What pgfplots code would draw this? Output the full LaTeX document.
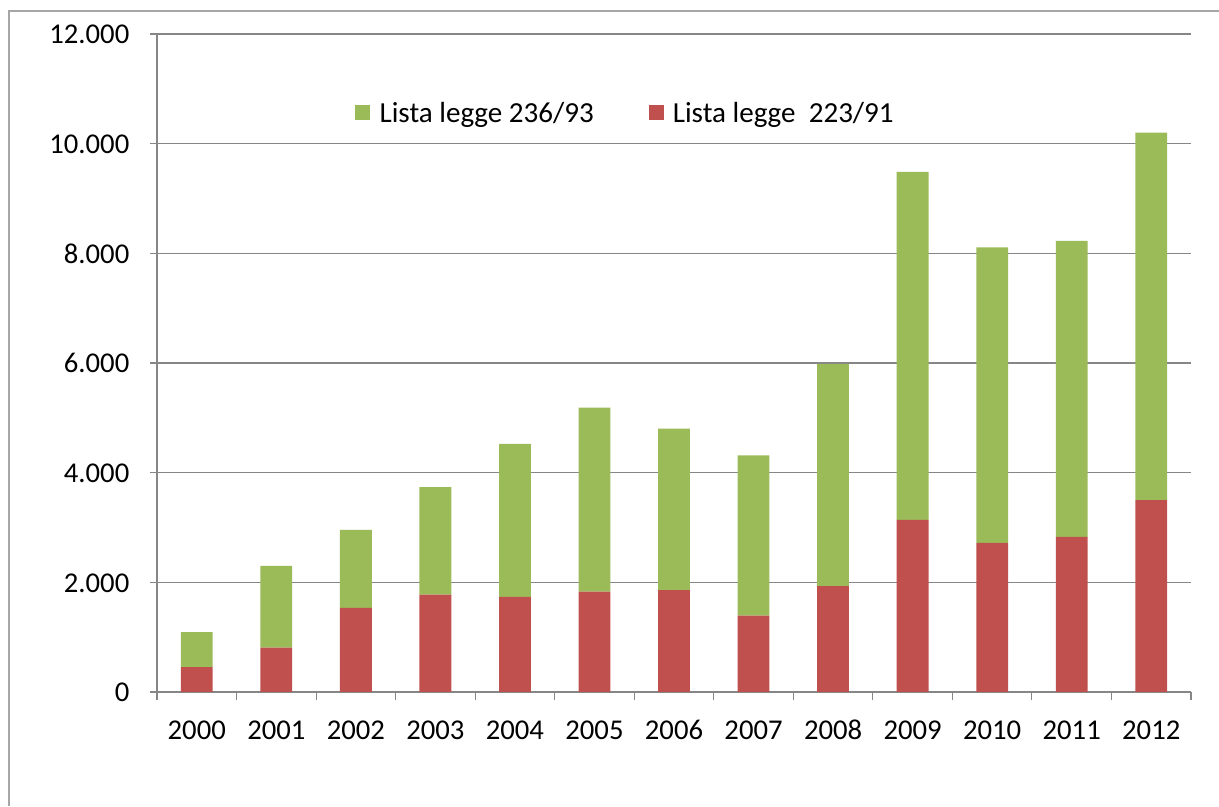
\documentclass[border=0pt]{standalone}
\usepackage{pgfplots}
\pgfplotsset{compat=1.18}
\usepackage{fontspec}
\setmainfont{Carlito}
\definecolor{cgreen}{HTML}{9BBB59}
\definecolor{cred}{HTML}{C0504D}
\definecolor{cgrid}{HTML}{868686}
\begin{document}
\begin{tikzpicture}
\useasboundingbox (0pt,0pt) rectangle (914.25pt,604.5pt);
\draw[color=gray!70, line width=1.2pt] (6.75pt,0pt) -- (6.75pt,596.25pt) -- (914.25pt,596.25pt);
\begin{axis}[
  at={(117.75pt,85.5pt)}, anchor=south west,
  scale only axis, width=775.5pt, height=493.5pt,
  ybar stacked, bar width=0.4,
  xmin=-0.5, xmax=12.5, ymin=0, ymax=12000,
  scaled y ticks=false,
  xtick={0,...,12},
  xticklabels={2000,2001,2002,2003,2004,2005,2006,2007,2008,2009,2010,2011,2012},
  minor xtick={-0.5,0.5,...,12.5},
  ytick={0,2000,4000,6000,8000,10000,12000},
  yticklabels={0,2.000,4.000,6.000,8.000,10.000,12.000},
  major x tick style={draw=none},
  minor x tick style={cgrid, line width=0.8pt},
  minor tick length=6pt,
  major tick length=5.25pt,
  tick align=outside,
  ytick pos=left, xtick pos=bottom,
  y tick style={cgrid, line width=0.8pt},
  ymajorgrids, grid style={cgrid, line width=0.8pt},
  axis x line*=bottom, axis y line*=left,
  axis line style={cgrid, line width=0.8pt},
  tick label style={font=\fontsize{21.5}{24}\selectfont},
  typeset ticklabels with strut,
  yticklabel style={xshift=-12pt, yshift=-2.5pt},
  xticklabel style={yshift=-10pt},
  reverse legend,
  legend columns=2,
  legend style={at={(0.1915,0.88)}, anchor=west, draw=none, fill=none,
    inner sep=0pt, font=\fontsize{21.8}{24}\selectfont,
    /tikz/every odd column/.append style={column sep=5pt},
    /tikz/every even column/.append style={column sep=39pt}},
  legend image code/.code={\fill[#1] (0pt,-5.6pt) rectangle (11.25pt,5.6pt);},
]
\addplot[fill=cred, draw=none] coordinates {
(0,455) (1,811) (2,1533) (3,1775) (4,1733) (5,1829) (6,1860)
(7,1395) (8,1932) (9,3138) (10,2720) (11,2831) (12,3501)};
\addlegendentry{Lista legge~ 223/91}
\addplot[fill=cgreen, draw=none] coordinates {
(0,636) (1,1491) (2,1423) (3,1963) (4,2794) (5,3358) (6,2945)
(7,2922) (8,4051) (9,6346) (10,5390) (11,5398) (12,6701)};
\addlegendentry{Lista legge 236/93}
\end{axis}
\end{tikzpicture}
\end{document}
